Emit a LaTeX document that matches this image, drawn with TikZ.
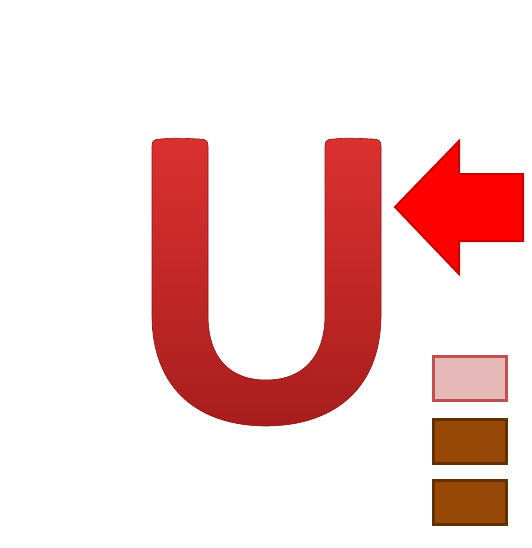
\documentclass[tikz,border=0pt]{standalone}
\usepackage{tikz}
\usetikzlibrary{positioning}
\definecolor{utop}{RGB}{218,49,47}
\definecolor{ubot}{RGB}{168,30,29}
\definecolor{uedge}{RGB}{140,22,22}
\definecolor{arrowred}{RGB}{255,0,0}
\definecolor{arrowedge}{RGB}{200,0,0}
\definecolor{pinkfill}{RGB}{230,184,183}
\definecolor{pinkedge}{RGB}{192,80,77}
\definecolor{brownfill}{RGB}{151,72,7}
\definecolor{brownedge}{RGB}{99,47,4}

\begin{document}
\begin{tikzpicture}[x=1pt,y=1pt,
    keybox/.style={rectangle,line width=3pt,minimum width=73pt,minimum height=44pt,inner sep=0pt},
    lightbox/.style={keybox,draw=pinkedge,fill=pinkfill},
    darkbox/.style={keybox,draw=brownedge,fill=brownfill}]
  \useasboundingbox (0,0) rectangle (531,-548);
  % the big U
  \shade[top color=utop,bottom color=ubot,draw=uedge,line width=0.6pt]
    (152,-146) -- (152,-315)
    .. controls (152,-392) and (202,-426) .. (266,-426)
    .. controls (330,-426) and (381,-392) .. (381,-315)
    -- (381,-146) .. controls (381,-140) and (378,-139) .. (372,-139)
    .. controls (352,-138) and (344,-138) .. (334,-139)
    .. controls (328,-139) and (325,-140) .. (325,-146)
    -- (325,-315)
    .. controls (325,-358) and (302,-380) .. (266,-380)
    .. controls (230,-380) and (208,-358) .. (208,-315)
    -- (208,-146) .. controls (208,-140) and (205,-139) .. (199,-139)
    .. controls (179,-138) and (171,-138) .. (161,-139)
    .. controls (155,-139) and (152,-140) .. (152,-146) -- cycle;
  % arrow pointing at the U
  \draw[arrowedge,fill=arrowred,line width=2pt,line join=miter]
    (395,-207) -- (459,-141) -- (459,-174) -- (523,-174)
    -- (523,-241) -- (459,-241) -- (459,-274) -- cycle;
  % legend boxes
  \node[lightbox] (first) at (470,-378.5) {};
  \node[darkbox,below=15.5pt of first] (second) {};
  \node[darkbox,below=14.5pt of second] (third) {};
\end{tikzpicture}
\end{document}
